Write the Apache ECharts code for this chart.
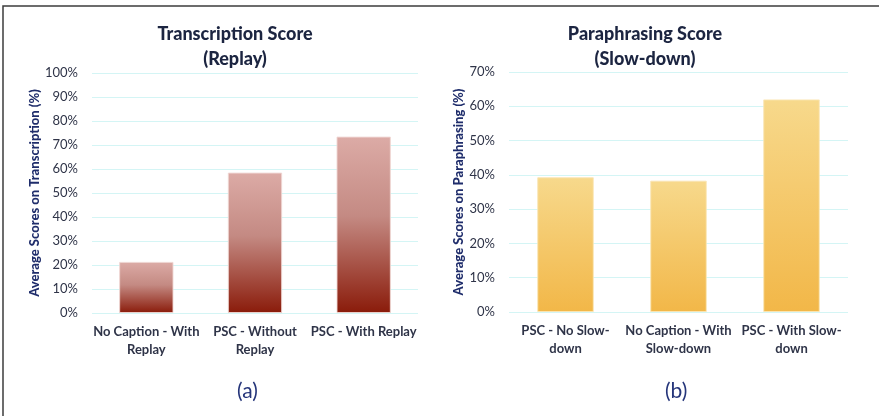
<!DOCTYPE html>
<html><head><meta charset="utf-8">
<script src="https://cdn.jsdelivr.net/npm/echarts@6/dist/echarts.min.js"></script>
<style>html,body{margin:0;padding:0;background:#fff}#c{width:879px;height:416px}</style>
</head><body><div id="c"></div>
<script>
const catsA = ['No Caption - With\nReplay', 'PSC - Without\nReplay', 'PSC - With Replay'];
const valsA = [21.3, 58.5, 73.5];
const catsB = ['PSC - No Slow-\ndown', 'No Caption - With\nSlow-down', 'PSC - With Slow-\ndown'];
const valsB = [39.3, 38.3, 62.0];
const titleA = 'Transcription Score\n(Replay)';
const titleB = 'Paraphrasing Score\n(Slow-down)';
const nameA = 'Average Scores on Transcription (%)';
const nameB = 'Average Scores on Paraphrasing (%)';

const FONT = 'Lato';
const chart = echarts.init(document.getElementById('c'), null, {renderer:'canvas'});
const gridLine = {show:true, lineStyle:{color:'#d4f5f5', width:1}};
const gradA = new echarts.graphic.LinearGradient(0,0,0,1,[{offset:0,color:'#dcaba6'},{offset:0.45,color:'#c48a83'},{offset:1,color:'#8a1b0a'}]);
const gradB = new echarts.graphic.LinearGradient(0,0,0,1,[{offset:0,color:'#f7d98c'},{offset:1,color:'#f2b748'}]);
const yLabel = {color:'#2f3448', fontFamily:FONT, fontSize:13, margin:14, formatter:'{value}%'};
const xLabel = {color:'#2f3448', fontFamily:FONT, fontSize:13, fontWeight:'bold', lineHeight:18, margin:10, interval:0};
const nameStyle = {color:'#1f2d6b', fontFamily:FONT, fontSize:13, fontWeight:900};
const titleStyle = {color:'#1c2541', fontFamily:FONT, fontSize:18, fontWeight:900, lineHeight:25};

chart.setOption({
  animation:false,
  title:[
    {text:titleA, left:230, top:17, textAlign:'center', textStyle:titleStyle},
    {text:titleB, left:640, top:17, textAlign:'center', textStyle:titleStyle}
  ],
  grid:[
    {left:92, right:461, top:73, bottom:103},
    {left:509, right:31, top:72, bottom:104}
  ],
  xAxis:[
    {type:'category', gridIndex:0, data:catsA, axisLine:{show:false}, axisTick:{show:false}, axisLabel:xLabel},
    {type:'category', gridIndex:1, data:catsB, axisLine:{show:false}, axisTick:{show:false}, axisLabel:xLabel}
  ],
  yAxis:[
    {type:'value', gridIndex:0, min:0, max:100, interval:10, splitLine:gridLine, axisLabel:yLabel,
     name:nameA, nameLocation:'middle', nameGap:50, nameRotate:90, nameTextStyle:nameStyle},
    {type:'value', gridIndex:1, min:0, max:70, interval:10, splitLine:gridLine, axisLabel:yLabel,
     name:nameB, nameLocation:'middle', nameGap:44, nameRotate:90, nameTextStyle:nameStyle}
  ],
  series:[
    {type:'bar', xAxisIndex:0, yAxisIndex:0, data:valsA, barWidth:'50%', itemStyle:{color:gradA, borderColor:'rgba(240,215,212,0.9)', borderWidth:1}},
    {type:'bar', xAxisIndex:1, yAxisIndex:1, data:valsB, barWidth:'50%', itemStyle:{color:gradB, borderColor:'rgba(250,230,180,0.9)', borderWidth:1}}
  ],
  graphic:[
    {type:'polyline', shape:{points:[[3,416],[3,6],[879,6]]}, style:{stroke:'#3c3c3c', lineWidth:1.5, fill:null}},
    {type:'text', left:237, top:381, style:{text:'(a)', fill:'#25357a', font:'21px '+FONT}},
    {type:'text', left:665, top:381, style:{text:'(b)', fill:'#25357a', font:'21px '+FONT}}
  ]
});
</script></body></html>
